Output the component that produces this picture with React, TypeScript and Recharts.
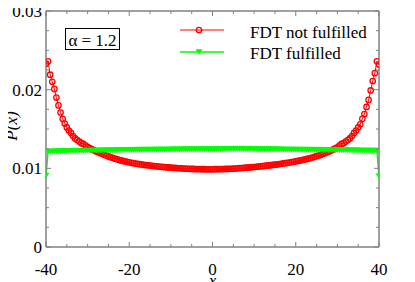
import React from 'react';
import { LineChart, Line, XAxis, YAxis, Legend } from 'recharts';

const xValues = [
  -40, -39.5, -39, -38.5, -38, -37.5, -37, -36.5, -36, -35.5,
  -35, -34.5, -34, -33.5, -33, -32.5, -32, -31.5, -31, -30.5,
  -30, -29.5, -29, -28.5, -28, -27.5, -27, -26.5, -26, -25.5,
  -25, -24.5, -24, -23.5, -23, -22.5, -22, -21.5, -21, -20.5,
  -20, -19.5, -19, -18.5, -18, -17.5, -17, -16.5, -16, -15.5,
  -15, -14.5, -14, -13.5, -13, -12.5, -12, -11.5, -11, -10.5,
  -10, -9.5, -9, -8.5, -8, -7.5, -7, -6.5, -6, -5.5,
  -5, -4.5, -4, -3.5, -3, -2.5, -2, -1.5, -1, -0.5,
  0, 0.5, 1, 1.5, 2, 2.5, 3, 3.5, 4, 4.5,
  5, 5.5, 6, 6.5, 7, 7.5, 8, 8.5, 9, 9.5,
  10, 10.5, 11, 11.5, 12, 12.5, 13, 13.5, 14, 14.5,
  15, 15.5, 16, 16.5, 17, 17.5, 18, 18.5, 19, 19.5,
  20, 20.5, 21, 21.5, 22, 22.5, 23, 23.5, 24, 24.5,
  25, 25.5, 26, 26.5, 27, 27.5, 28, 28.5, 29, 29.5,
  30, 30.5, 31, 31.5, 32, 32.5, 33, 33.5, 34, 34.5,
  35, 35.5, 36, 36.5, 37, 37.5, 38, 38.5, 39, 39.5,
  40,
];

const notFulfilled = [
  0.0233, 0.0236, 0.0219, 0.021, 0.0201, 0.019, 0.018, 0.0171, 0.0163, 0.0157,
  0.0152, 0.0148, 0.0145, 0.0141, 0.0138, 0.0136, 0.0134, 0.0132, 0.0131, 0.0129,
  0.01272, 0.01258, 0.01243, 0.0123, 0.01218, 0.01206, 0.01195, 0.01184, 0.01173, 0.01162,
  0.01152, 0.01142, 0.01133, 0.01124, 0.01116, 0.01108, 0.01101, 0.01094, 0.01088, 0.01082,
  0.01076, 0.01071, 0.01066, 0.01061, 0.01057, 0.01053, 0.01049, 0.01045, 0.01041, 0.01038,
  0.01035, 0.01032, 0.01029, 0.01026, 0.01023, 0.0102, 0.01018, 0.01015, 0.01013, 0.01011,
  0.01009, 0.01007, 0.01005, 0.01003, 0.01001, 0.01, 0.00998, 0.00997, 0.00995, 0.00994,
  0.00993, 0.00992, 0.00991, 0.0099, 0.0099, 0.00989, 0.00989, 0.00988, 0.00988, 0.00988,
  0.00988, 0.00989, 0.00989, 0.0099, 0.0099, 0.00991, 0.00992, 0.00993, 0.00994, 0.00995,
  0.00997, 0.00998, 0.01, 0.01002, 0.01004, 0.01006, 0.01008, 0.0101, 0.01012, 0.01015,
  0.01017, 0.0102, 0.01022, 0.01025, 0.01028, 0.01031, 0.01034, 0.01037, 0.0104, 0.01043,
  0.01047, 0.0105, 0.01054, 0.01058, 0.01062, 0.01066, 0.0107, 0.01074, 0.01079, 0.01084,
  0.01089, 0.01094, 0.01099, 0.01105, 0.01111, 0.01117, 0.01124, 0.01131, 0.01138, 0.01146,
  0.01154, 0.01163, 0.01172, 0.01182, 0.01192, 0.01203, 0.01214, 0.01226, 0.0124, 0.01254,
  0.01268, 0.0129, 0.0131, 0.0132, 0.0134, 0.0136, 0.0138, 0.0141, 0.0145, 0.0148,
  0.0152, 0.0156, 0.0163, 0.0169, 0.0178, 0.0187, 0.0199, 0.0211, 0.0221, 0.0236,
  0.0232,
];

const fulfilled = [
  0.0091, 0.01213, 0.01215, 0.01214, 0.01217, 0.01216, 0.01218, 0.01217, 0.01219, 0.0122,
  0.01219, 0.01221, 0.0122, 0.01222, 0.01221, 0.01223, 0.01222, 0.01224, 0.01223, 0.01225,
  0.01224, 0.01226, 0.01225, 0.01227, 0.01226, 0.01228, 0.01227, 0.01229, 0.01228, 0.0123,
  0.01229, 0.01231, 0.0123, 0.01232, 0.01231, 0.01233, 0.01232, 0.01233, 0.01232, 0.01234,
  0.01233, 0.01235, 0.01234, 0.01235, 0.01236, 0.01235, 0.01236, 0.01237, 0.01236, 0.01237,
  0.01238, 0.01237, 0.01238, 0.01239, 0.01238, 0.01239, 0.0124, 0.01239, 0.0124, 0.01239,
  0.0124, 0.01241, 0.0124, 0.01241, 0.0124, 0.01241, 0.01242, 0.01241, 0.01242, 0.01241,
  0.01242, 0.01241, 0.01242, 0.01243, 0.01242, 0.01243, 0.01242, 0.01243, 0.01244, 0.01243,
  0.01244, 0.01243, 0.01244, 0.01245, 0.01244, 0.01245, 0.01246, 0.01245, 0.01246, 0.01245,
  0.01246, 0.01247, 0.01246, 0.01247, 0.01246, 0.01247, 0.01246, 0.01245, 0.01246, 0.01245,
  0.01244, 0.01245, 0.01244, 0.01243, 0.01244, 0.01243, 0.01242, 0.01243, 0.01242, 0.01241,
  0.01242, 0.01241, 0.0124, 0.01241, 0.0124, 0.01239, 0.0124, 0.01239, 0.01238, 0.01239,
  0.01238, 0.01237, 0.01238, 0.01237, 0.01236, 0.01237, 0.01236, 0.01235, 0.01236, 0.01235,
  0.01234, 0.01235, 0.01234, 0.01233, 0.01234, 0.01233, 0.01232, 0.01233, 0.01232, 0.01231,
  0.01232, 0.01231, 0.0123, 0.01231, 0.0123, 0.01229, 0.0123, 0.01229, 0.01228, 0.01229,
  0.01228, 0.01227, 0.01228, 0.01227, 0.01226, 0.01227, 0.01226, 0.01225, 0.01226, 0.01224,
  0.009,
];

const xTicks = [-40, -35, -30, -25, -20, -15, -10, -5, 0, 5, 10, 15, 20, 25, 30, 35, 40];
const xLabels = [-40, -20, 0, 20, 40];
const yTicks = [0, 0.0025, 0.005, 0.0075, 0.01, 0.0125, 0.015, 0.0175, 0.02, 0.0225, 0.025, 0.0275, 0.03];
const yLabels = [0, 0.01, 0.02, 0.03];

const seriesNames = { notFulfilled: 'FDT not fulfilled', fulfilled: 'FDT fulfilled' };
const alphaText = 'α = 1.2';

const data = xValues.map((x, i) => ({ x, notFulfilled: notFulfilled[i], fulfilled: fulfilled[i] }));

const FONT = '"Liberation Serif", Tinos, "Times New Roman", "DejaVu Serif", serif';
const AXIS = '#808080';
const RED = '#ff0000';
const GREEN = '#00ff00';
const FS = 17;

const isLabel = (v: number, list: number[]) => list.some((l) => Math.abs(l - v) < 1e-9);
const fmtY = (v: number) => (v === 0 ? '0' : v.toFixed(2));

const BottomTick = (props: any) => {
  const { x, y, payload } = props;
  const v = payload.value;
  const major = isLabel(v, xLabels);
  return (
    <g>
      <line x1={x} x2={x} y1={y} y2={y - (major ? 5 : 3)} stroke={AXIS} strokeWidth={1} />
      {major && (
        <text x={x} y={y + 28} textAnchor="middle" fontFamily={FONT} fontSize={FS} fill="#000">
          {v}
        </text>
      )}
    </g>
  );
};

const TopTick = (props: any) => {
  const { x, y, payload } = props;
  const major = isLabel(payload.value, xLabels);
  return <line x1={x} x2={x} y1={y} y2={y + (major ? 5 : 3)} stroke={AXIS} strokeWidth={1} />;
};

const LeftTick = (props: any) => {
  const { x, y, payload } = props;
  const v = payload.value;
  const major = isLabel(v, yLabels);
  return (
    <g>
      <line x1={x} x2={x + (major ? 5 : 3)} y1={y} y2={y} stroke={AXIS} strokeWidth={1} />
      {major && (
        <text x={x - 4} y={y + 6} textAnchor="end" fontFamily={FONT} fontSize={FS} fill="#000">
          {fmtY(v)}
        </text>
      )}
    </g>
  );
};

const RightTick = (props: any) => {
  const { x, y, payload } = props;
  const major = isLabel(payload.value, yLabels);
  return <line x1={x} x2={x - (major ? 5 : 3)} y1={y} y2={y} stroke={AXIS} strokeWidth={1} />;
};

const triPath = (cx: number, cy: number) =>
  `M${cx - 3},${cy - 2.5}L${cx + 3},${cy - 2.5}L${cx},${cy + 2.5}Z`;

const TriDot = (props: any) => {
  const { cx, cy, index } = props;
  if (cx == null || cy == null) return <g key={`t${index}`} />;
  return <path key={`t${index}`} d={triPath(cx, cy)} fill={GREEN} stroke={GREEN} strokeWidth={0.5} />;
};

const textStyle: React.CSSProperties = {
  position: 'absolute',
  fontFamily: FONT,
  fontSize: FS,
  lineHeight: '20px',
  whiteSpace: 'nowrap',
  color: '#000',
};

const LegendContent = () => (
  <div style={{ position: 'relative', width: 415, height: 70 }}>
    <svg width={415} height={70} style={{ position: 'absolute', left: 0, top: 0 }}>
      <line x1={180} x2={224} y1={30} y2={30} stroke={RED} strokeWidth={1} />
      <circle cx={199} cy={30} r={2.7} stroke={RED} strokeWidth={1.3} fill="none" />
      <line x1={180} x2={224} y1={52} y2={52} stroke={GREEN} strokeWidth={1.5} />
      <path d={triPath(199, 52)} fill={GREEN} stroke={GREEN} strokeWidth={0.5} />
    </svg>
    <span style={{ ...textStyle, left: 250, top: 22.5 }}>{seriesNames.notFulfilled}</span>
    <span style={{ ...textStyle, left: 250, top: 43.5 }}>{seriesNames.fulfilled}</span>
  </div>
);

export default function App() {
  return (
    <div style={{ position: 'relative', width: 415, height: 282, overflow: 'hidden', margin: '-8px 0 0 -8px' }}>
      <LineChart width={415} height={290} data={data} margin={{ top: 10, right: 35, left: 0, bottom: 0 }}>
        <XAxis
          dataKey="x"
          type="number"
          domain={[-40, 40]}
          ticks={xTicks}
          interval={0}
          tickSize={0}
          tickMargin={0}
          tickLine={false}
          tick={<BottomTick />}
          height={43}
          axisLine={{ stroke: AXIS, strokeWidth: 1.5 }}
          allowDataOverflow
          label={{
            content: () => (
              <text x={212.5} y={285.5} textAnchor="middle" fontFamily={FONT} fontSize={FS} fontStyle="italic" fill="#000">
                x
              </text>
            ),
          }}
        />
        <XAxis
          xAxisId="top"
          orientation="top"
          dataKey="x"
          type="number"
          domain={[-40, 40]}
          ticks={xTicks}
          interval={0}
          tickSize={0}
          tickMargin={0}
          tickLine={false}
          tick={<TopTick />}
          height={1}
          axisLine={{ stroke: AXIS, strokeWidth: 1.5 }}
          allowDataOverflow
        />
        <YAxis
          type="number"
          domain={[0, 0.03]}
          ticks={yTicks}
          interval={0}
          tickSize={0}
          tickMargin={0}
          tickLine={false}
          tick={<LeftTick />}
          width={46}
          axisLine={{ stroke: AXIS, strokeWidth: 1.5 }}
          allowDataOverflow
          label={{
            content: () => (
              <text
                x={16.5}
                y={126}
                transform="rotate(-90, 16.5, 126)"
                textAnchor="middle"
                fontFamily={FONT}
                fontSize={FS}
                fontStyle="italic"
                fill="#000"
              >
                P(x)
              </text>
            ),
          }}
        />
        <YAxis
          yAxisId="right"
          orientation="right"
          type="number"
          domain={[0, 0.03]}
          ticks={yTicks}
          interval={0}
          tickSize={0}
          tickMargin={0}
          tickLine={false}
          tick={<RightTick />}
          width={1}
          axisLine={{ stroke: AXIS, strokeWidth: 1.5 }}
          allowDataOverflow
        />
        <Legend
          layout="vertical"
          align="center"
          verticalAlign="middle"
          content={() => <LegendContent />}
          wrapperStyle={{ position: 'absolute', left: 0, top: 0, width: 415, height: 70, pointerEvents: 'none' }}
        />
        <Line
          dataKey="notFulfilled"
          name={seriesNames.notFulfilled}
          stroke={RED}
          strokeWidth={1}
          dot={{ r: 2.7, stroke: RED, strokeWidth: 1.3, fill: 'none' }}
          isAnimationActive={false}
        />
        <Line
          dataKey="fulfilled"
          name={seriesNames.fulfilled}
          stroke={GREEN}
          strokeWidth={1.5}
          dot={(p: any) => <TriDot key={`td${p.index}`} {...p} />}
          isAnimationActive={false}
        />
        <Line
          xAxisId="top"
          yAxisId="right"
          dataKey="fulfilled"
          stroke="#000"
          strokeOpacity={0}
          dot={false}
          activeDot={false}
          legendType="none"
          isAnimationActive={false}
        />
      </LineChart>
      <div
        style={{
          position: 'absolute',
          left: 65,
          top: 28,
          width: 55,
          height: 22,
          boxSizing: 'border-box',
          border: '1px solid #000',
        }}
      />
      <span style={{ ...textStyle, left: 65, top: 31, width: 55, textAlign: 'center' }}>{alphaText}</span>
    </div>
  );
}
